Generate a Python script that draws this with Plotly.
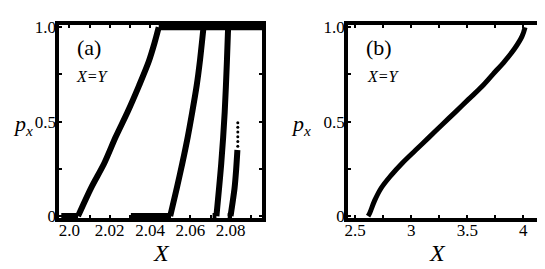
import plotly.graph_objects as go

# ---- data (panel a) : rising branches ----
a1_x = [2.0043, 2.0108, 2.0173, 2.0230, 2.0288, 2.0345, 2.0394, 2.0423, 2.0443]
a1_p = [0.0, 0.15, 0.28, 0.42, 0.55, 0.69, 0.82, 0.92, 1.0]
a2_x = [2.0500, 2.0533, 2.0560, 2.0587, 2.0609, 2.0631, 2.0647, 2.0665]
a2_p = [0.0, 0.15, 0.28, 0.42, 0.55, 0.69, 0.82, 1.0]
a3_x = [2.0729, 2.0753, 2.0770, 2.0781, 2.0787]
a3_p = [0.0, 0.28, 0.55, 0.82, 1.0]
a4_x = [2.0799, 2.0819, 2.0827, 2.0833]
a4_p = [0.0, 0.15, 0.25, 0.35]
a4dot_x = [2.0835, 2.0835, 2.0835, 2.0835, 2.0835, 2.0835]
a4dot_p = [0.37, 0.395, 0.42, 0.445, 0.47, 0.495]
# flat parts (p = 0 and p = 1)
a_bottom_x = [[1.9960, 2.0043], [2.0305, 2.0500], [2.0710, 2.0729], [2.0785, 2.0799]]
a_top_x = [2.0443, 2.0956]

# ---- data (panel b) ----
b_x = [2.615, 2.629, 2.673, 2.732, 2.820, 2.923, 3.040, 3.158, 3.275, 3.393,
       3.510, 3.628, 3.730, 3.833, 3.921, 3.989, 4.015]
b_p = [0.0, 0.015, 0.082, 0.149, 0.216, 0.283, 0.350, 0.417, 0.484, 0.551,
       0.618, 0.685, 0.752, 0.820, 0.886, 0.953, 1.0]

# ---- ticks ----
ax_ticks = [2.00, 2.02, 2.04, 2.06, 2.08]
ax_text = ["2.0", "2.02", "2.04", "2.06", "2.08"]
bx_ticks = [2.5, 3.0, 3.5, 4.0]
bx_text = ["2.5", "3", "3.5", "4"]
y_ticks = [0, 0.5, 1.0]
y_text = ["0", "0.5", "1.0"]

W, H = 545, 269
SERIF = "Liberation Serif, Times New Roman, serif"

fig = go.Figure()
line_a = dict(color="black", width=6)
for xs, ps in [(a1_x, a1_p), (a2_x, a2_p), (a3_x, a3_p), (a4_x, a4_p)]:
    fig.add_trace(go.Scatter(x=xs, y=ps, mode="lines", xaxis="x", yaxis="y",
                             line=dict(shape="spline", smoothing=0.8, **line_a),
                             showlegend=False, hoverinfo="skip"))
for seg in a_bottom_x:
    fig.add_trace(go.Scatter(x=seg, y=[0, 0], mode="lines", xaxis="x", yaxis="y",
                             line=line_a, showlegend=False, hoverinfo="skip"))
fig.add_trace(go.Scatter(x=a_top_x, y=[1, 1], mode="lines", xaxis="x", yaxis="y",
                         line=line_a, showlegend=False, hoverinfo="skip"))
fig.add_trace(go.Scatter(x=a4dot_x, y=a4dot_p, mode="markers", xaxis="x", yaxis="y",
                         marker=dict(color="black", size=3), cliponaxis=False,
                         showlegend=False, hoverinfo="skip"))
fig.add_trace(go.Scatter(x=b_x, y=b_p, mode="lines", xaxis="x2", yaxis="y2",
                         line=dict(color="black", width=5, shape="spline"),
                         showlegend=False, hoverinfo="skip"))

def px(x):
    return x / W

def py(y):
    return 1 - y / H

# p=0 at 213 px, p=1 at 13 px; range padded so lines on the frame are not clipped
PAD = 0.012
ydom = [py(213 + 200 * PAD), py(13 - 200 * PAD)]
tickfont = dict(family=SERIF, size=17, color="black")
common = dict(showline=True, linewidth=4, linecolor="black", mirror="allticks",
              ticks="inside", ticklen=3, tickwidth=2, tickcolor="black",
              showgrid=False, zeroline=False, tickfont=tickfont, tickmode="array")

fig.update_layout(
    width=W, height=H, margin=dict(l=0, r=0, t=0, b=0),
    paper_bgcolor="white", plot_bgcolor="white",
    xaxis=dict(domain=[px(48), px(253)], range=[1.9951, 2.0956], anchor="y",
               tickvals=ax_ticks, ticktext=ax_text, ticklabelstandoff=-7,
               minor=dict(dtick=0.01, tick0=2.0, ticks="inside", ticklen=3, tickwidth=2, tickcolor="black"),
               **common),
    yaxis=dict(domain=ydom, range=[-PAD, 1 + PAD], anchor="x",
               tickvals=y_ticks, ticktext=y_text, ticklabelstandoff=-4,
               minor=dict(dtick=0.25, tick0=0, ticks="inside", ticklen=3, tickwidth=2, tickcolor="black"),
               **common),
    xaxis2=dict(domain=[px(340), px(543)], range=[2.438, 4.229], anchor="y2",
                tickvals=bx_ticks, ticktext=bx_text, ticklabelstandoff=-7,
                minor=dict(dtick=0.25, tick0=2.5, ticks="inside", ticklen=3, tickwidth=2, tickcolor="black"),
                **common),
    yaxis2=dict(domain=ydom, range=[-PAD, 1 + PAD], anchor="x2",
                tickvals=y_ticks, ticktext=y_text, ticklabelstandoff=-4,
                minor=dict(dtick=0.25, tick0=0, ticks="inside", ticklen=3, tickwidth=2, tickcolor="black"),
                **common),
)

def ann(text, x, y, size, italic=False, xanchor="center"):
    t = f"<i>{text}</i>" if italic else text
    fig.add_annotation(text=t, x=px(x), y=py(y), xref="paper", yref="paper",
                       showarrow=False, xanchor=xanchor, yanchor="middle", borderpad=0,
                       font=dict(family=SERIF, size=size, color="black"))

# axis titles and labels
ann("X", 151, 252, 24, True)
ann("X", 430, 252, 24, True)
ann("<i>p</i><sub><i>x</i></sub>", 0, 116, 22, xanchor="left")
ann("<i>p</i><sub><i>x</i></sub>", 281, 116, 22, xanchor="left")
ann("(a)", 78, 34, 22)
ann("(b)", 371, 34, 22)
ann("X=Y", 81, 65, 16, True)
ann("X=Y", 376, 65, 16, True)

fig.write_html("out.html")
